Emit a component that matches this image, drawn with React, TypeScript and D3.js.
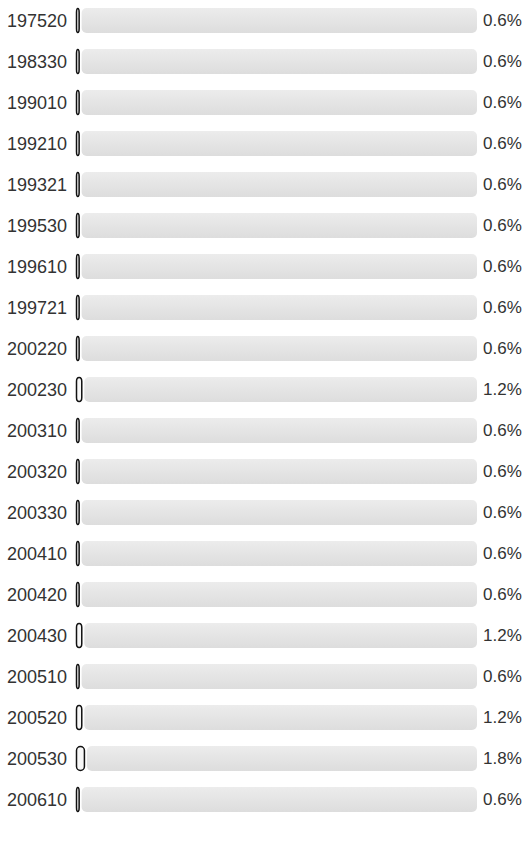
import React, {useEffect, useRef} from 'react';
import * as d3 from 'd3';

// category codes, top to bottom
const codes = [
    '197520', '198330', '199010', '199210', '199321', '199530', '199610', '199721',
    '200220', '200230', '200310', '200320', '200330', '200410', '200420', '200430',
    '200510', '200520', '200530', '200610'
];

// share in percent
const shares = [
    0.6, 0.6, 0.6, 0.6, 0.6, 0.6, 0.6, 0.6,
    0.6, 1.2, 0.6, 0.6, 0.6, 0.6, 0.6, 1.2,
    0.6, 1.2, 1.8, 0.6
];

const width = 529;
const height = 844;

function App() {
    const ref = useRef<SVGSVGElement | null>(null);

    useEffect(() => {
        const svg = d3.select(ref.current);
        svg.selectAll('*').remove();

        const data = codes.map((c, i) => ({code: c, value: shares[i]}));

        const trackLeft = 76.5;
        const trackRight = 477;

        const y = d3.scaleBand()
            .domain(codes)
            .range([0, 820])
            .paddingInner(0.39)
            .paddingOuter(0.195);

        const x = d3.scaleLinear()
            .domain([0, 100])
            .range([trackLeft, trackLeft + 440]);

        const defs = svg.append('defs');
        const grad = defs.append('linearGradient')
            .attr('id', 'trackGrad')
            .attr('x1', 0).attr('y1', 0)
            .attr('x2', 0).attr('y2', 1);
        grad.append('stop').attr('offset', '0%').attr('stop-color', '#ececec');
        grad.append('stop').attr('offset', '100%').attr('stop-color', '#dddddd');

        const row = svg.selectAll('g.row')
            .data(data)
            .enter()
            .append('g')
            .attr('class', 'row')
            .attr('transform', (d) => `translate(0, ${y(d.code)})`);

        // remaining part of the track
        row.append('rect')
            .attr('x', (d) => x(d.value) + 2.5)
            .attr('y', 0)
            .attr('width', (d) => trackRight - x(d.value) - 2.5)
            .attr('height', y.bandwidth())
            .attr('rx', 5)
            .attr('ry', 5)
            .style('fill', 'url(#trackGrad)');

        // value bar
        row.append('rect')
            .attr('x', x(0))
            .attr('y', 0.5)
            .attr('width', (d) => x(d.value) - x(0))
            .attr('height', y.bandwidth() - 1)
            .attr('rx', (d) => (x(d.value) - x(0)) / 2)
            .attr('ry', 4)
            .style('fill', '#f7f7f7')
            .style('stroke', '#111111')
            .style('stroke-width', 1.5);

        // category labels
        row.append('text')
            .attr('x', 7)
            .attr('y', y.bandwidth() / 2)
            .attr('dy', '0.35em')
            .attr('font-family', '"Liberation Sans", Arial, sans-serif')
            .attr('font-size', '18px')
            .style('fill', '#333333')
            .text((d) => d.code);

        // value labels
        row.append('text')
            .attr('x', trackRight + 6)
            .attr('y', y.bandwidth() / 2)
            .attr('dy', '0.35em')
            .attr('font-family', '"Liberation Sans", Arial, sans-serif')
            .attr('font-size', '17px')
            .style('fill', '#333333')
            .text((d) => d3.format('.1f')(d.value) + '%');
    }, []);

    return (
        <svg ref={ref} width={width} height={height}
             style={{position: 'absolute', left: 0, top: 0}}/>
    );
}

export default App;
